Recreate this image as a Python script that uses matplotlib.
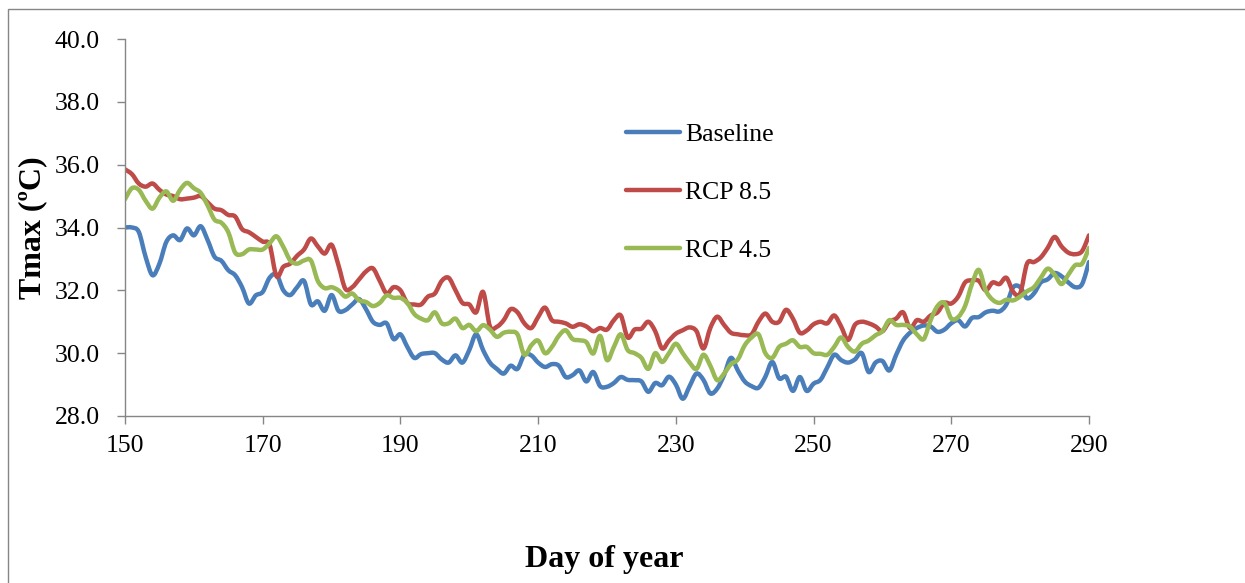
import matplotlib
matplotlib.use("Agg")
import matplotlib.pyplot as plt
from matplotlib.patches import Rectangle, PathPatch
from matplotlib.path import Path
from matplotlib.lines import Line2D
import numpy as np

# daily Tmax, day 150 .. 290
days = np.arange(150, 291)

baseline = [
    34.0, 34.0, 33.86, 33.06, 32.48, 32.85, 33.54, 33.75, 33.6, 33.97,
    33.75, 34.04, 33.6, 33.07, 32.94, 32.64, 32.48, 32.1, 31.58, 31.84,
    31.95, 32.4, 32.5, 32.0, 31.85, 32.1, 32.3, 31.55, 31.65, 31.35,
    31.85, 31.35, 31.37, 31.55, 31.72, 31.4, 31.0, 30.9, 30.95, 30.45,
    30.6, 30.2, 29.85, 29.97, 30.0, 30.0, 29.8, 29.7, 29.93, 29.7,
    30.1, 30.6, 30.1, 29.7, 29.5, 29.35, 29.6, 29.5, 29.95, 29.93,
    29.7, 29.56, 29.65, 29.6, 29.24, 29.3, 29.45, 29.1, 29.4, 28.95,
    28.93, 29.05, 29.24, 29.15, 29.14, 29.1, 28.77, 29.05, 28.98, 29.25,
    29.0, 28.55, 28.95, 29.35, 29.15, 28.72, 28.87, 29.3, 29.85, 29.45,
    29.1, 28.95, 28.9, 29.25, 29.72, 29.2, 29.25, 28.8, 29.24, 28.8,
    29.03, 29.15, 29.55, 29.95, 29.78, 29.7, 29.8, 30.0, 29.4, 29.7,
    29.75, 29.45, 29.95, 30.4, 30.65, 30.8, 30.88, 30.85, 30.68, 30.75,
    30.95, 31.05, 30.85, 31.12, 31.15, 31.3, 31.35, 31.33, 31.55, 32.1,
    32.1, 31.75, 31.9, 32.25, 32.35, 32.55, 32.45, 32.25, 32.1, 32.2,
    32.9,
]

rcp85 = [
    35.85, 35.7, 35.4, 35.3, 35.4, 35.2, 35.05, 35.0, 34.9, 34.92,
    34.95, 35.0, 34.8, 34.6, 34.55, 34.4, 34.35, 33.95, 33.85, 33.7,
    33.55, 33.45, 32.45, 32.75, 32.85, 33.1, 33.3, 33.65, 33.4, 33.17,
    33.45, 32.8, 32.05, 32.1, 32.35, 32.6, 32.7, 32.3, 31.9, 32.1,
    32.0, 31.6, 31.55, 31.55, 31.8, 31.9, 32.3, 32.4, 32.0, 31.6,
    31.55, 31.3, 31.95, 30.85, 30.84, 31.05, 31.4, 31.3, 30.95, 30.8,
    31.15, 31.45, 31.05, 31.0, 30.95, 30.84, 30.92, 30.85, 30.7, 30.8,
    30.75, 31.05, 31.2, 30.5, 30.75, 30.78, 31.0, 30.7, 30.15, 30.4,
    30.62, 30.73, 30.82, 30.7, 30.15, 30.8, 31.16, 30.9, 30.65, 30.6,
    30.57, 30.6, 31.0, 31.26, 31.0, 31.0, 31.38, 31.1, 30.65, 30.72,
    30.92, 31.0, 30.95, 31.2, 30.85, 30.42, 30.9, 31.0, 30.95, 30.85,
    30.7, 31.0, 31.1, 31.3, 30.8, 31.05, 31.0, 31.2, 31.3, 31.6,
    31.58, 31.8, 32.25, 32.32, 32.3, 32.0, 32.25, 32.2, 32.4, 31.95,
    31.9, 32.85, 32.9, 33.05, 33.35, 33.7, 33.4, 33.2, 33.15, 33.25,
    33.75,
]

rcp45 = [
    34.9, 35.25, 35.2, 34.85, 34.6, 34.95, 35.15, 34.85, 35.2, 35.42,
    35.25, 35.1, 34.7, 34.25, 34.15, 33.85, 33.2, 33.15, 33.3, 33.3,
    33.3, 33.5, 33.72, 33.38, 32.95, 32.85, 32.95, 32.95, 32.3, 32.07,
    32.1, 32.0, 31.8, 31.9, 31.68, 31.63, 31.5, 31.6, 31.84, 31.76,
    31.76, 31.6, 31.25, 31.1, 31.05, 31.3, 30.95, 30.95, 31.1, 30.8,
    30.9, 30.7, 30.89, 30.75, 30.52, 30.65, 30.68, 30.6, 29.95, 30.25,
    30.4, 30.0, 30.2, 30.55, 30.73, 30.45, 30.41, 30.35, 29.99, 30.55,
    29.78, 30.2, 30.6, 30.1, 30.0, 29.85, 29.5, 30.0, 29.72, 30.0,
    30.3, 30.0, 29.7, 29.5, 29.95, 29.6, 29.14, 29.35, 29.65, 29.8,
    30.25, 30.5, 30.6, 30.0, 29.85, 30.2, 30.3, 30.41, 30.2, 30.2,
    30.0, 29.98, 29.95, 30.2, 30.5, 30.2, 30.05, 30.3, 30.4, 30.57,
    30.7, 31.05, 30.9, 30.9, 30.85, 30.6, 30.45, 31.05, 31.5, 31.6,
    31.1, 31.15, 31.5, 32.2, 32.65, 32.0, 31.7, 31.6, 31.7, 31.68,
    31.8, 31.97, 32.1, 32.4, 32.69, 32.5, 32.2, 32.5, 32.8, 32.85,
    33.35,
]

series_names = ["Baseline", "RCP 8.5", "RCP 4.5"]
series_colors = ["#4A7EBB", "#BE4B48", "#98B954"]

x_ticks = [150, 170, 190, 210, 230, 250, 270, 290]
y_ticks = [28, 30, 32, 34, 36, 38, 40]


def smooth_path(x, y):
    """bezier path through every point, like a smoothed Excel line"""
    pts = np.column_stack([x, y]).astype(float)
    ext = np.vstack([pts[0], pts, pts[-1]])
    verts = [pts[0]]
    codes = [Path.MOVETO]
    for i in range(len(pts) - 1):
        p0, p1, p2, p3 = ext[i], ext[i + 1], ext[i + 2], ext[i + 3]
        verts += [p1 + (p2 - p0) / 6, p2 - (p3 - p1) / 6, p2]
        codes += [Path.CURVE4] * 3
    return Path(verts, codes)


plt.rcParams['font.family'] = ['Liberation Serif', 'DejaVu Serif']

W, H = 1245, 583
fig = plt.figure(figsize=(W / 100, H / 100), dpi=100)
ax = fig.add_axes([125 / W, 1 - 416 / H, (1089 - 125) / W, (416 - 39) / H])

LW = 3.2
handles = []
for vals, name, col in zip([baseline, rcp85, rcp45], series_names, series_colors):
    ax.add_patch(PathPatch(smooth_path(days, vals), fill=False, edgecolor=col,
                           lw=LW, capstyle='round', joinstyle='round'))
    handles.append(Line2D([], [], color=col, lw=LW, solid_capstyle='round'))

ax.set_xlim(150, 290)
ax.set_ylim(28, 40)
ax.set_xticks(x_ticks)
ax.set_yticks(y_ticks)
ax.set_yticklabels([f"{v:.1f}" for v in y_ticks])

grey = "#868686"
for side in ["top", "right"]:
    ax.spines[side].set_visible(False)
for side in ["left", "bottom"]:
    ax.spines[side].set_color(grey)
    ax.spines[side].set_linewidth(1.0)
ax.tick_params(axis='both', direction='out', color=grey, length=6,
               width=1.0, labelsize=18.5)
ax.tick_params(axis='y', pad=12)
ax.tick_params(axis='x', pad=8)

fig.text(33 / W, 1 - 228 / H, "Tmax (ºC)", rotation=90, ha='center',
         va='center', fontsize=23, fontweight='bold')
fig.text(604 / W, 16 / H, "Day of year", ha='center', va='baseline',
         fontsize=23, fontweight='bold')

ax.legend(handles, series_names, loc='upper left',
          bbox_to_anchor=(626 / W, 1 - 123 / H),
          bbox_transform=fig.transFigure, frameon=False, fontsize=18.5,
          handlelength=2.1, handletextpad=0.2, labelspacing=1.37,
          borderpad=0, borderaxespad=0)

# outer chart border (right and bottom edges fall outside the picture)
fig.patches.append(Rectangle((8 / W, -0.05), 1.2, 1.05 - 9 / H,
                             transform=fig.transFigure, fill=False,
                             edgecolor=grey, lw=1.0))

fig.savefig("out.png", dpi=100)
